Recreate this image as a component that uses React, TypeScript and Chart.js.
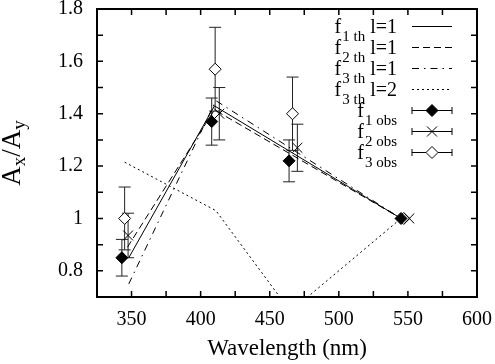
import React, { useEffect, useRef } from 'react';
import { Chart, registerables } from 'chart.js';

Chart.register(...registerables);

const FONT = '"Liberation Serif", "Times New Roman", serif';

// Axes
const xMin = 325;
const xMax = 600;
const xStep = 25;
const xLabelEvery = 50;
const yMin = 0.7;
const yMax = 1.8;
const yStep = 0.1;
const xTitle = 'Wavelength (nm)';

// Theory curves
const f1ThWl = [348, 410, 545];
const f1ThVal = [0.85, 1.43, 1.0];
const f2ThWl = [347, 410, 545];
const f2ThVal = [0.89, 1.415, 1.0];
const f3ThWl = [348, 411, 545];
const f3ThVal = [0.75, 1.45, 1.0];
const f3L2Wl = [345, 411, 465, 545];
const f3L2Val = [1.215, 1.03, 0.645, 1.0];

// Observations
const f1ObsWl = [343, 408, 464, 545];
const f1ObsVal = [0.85, 1.37, 1.22, 1.0];
const f1ObsErr = [0.07, 0.09, 0.08, 0];
const f2ObsWl = [347.5, 413.5, 470, 551];
const f2ObsVal = [0.935, 1.4, 1.27, 1.0];
const f2ObsErr = [0.085, 0.1, 0.09, 0];
const f3ObsWl = [345, 410.5, 466.5, 547];
const f3ObsVal = [1.0, 1.57, 1.4, 1.0];
const f3ObsErr = [0.12, 0.16, 0.14, 0];

// Legend
const legendSubs = ['1 th', '2 th', '3 th', '3 th', '1 obs', '2 obs', '3 obs'];
const legendSuffix = [' l=1', ' l=1', ' l=1', ' l=2', '', '', ''];
const legendKinds = ['solid', 'dash', 'dashdot', 'dot', 'fdiamond', 'cross', 'odiamond'];

const pts = (xs: number[], ys: number[]) => xs.map((x, i) => ({ x, y: ys[i] }));

const dashFor: Record<string, number[]> = {
  solid: [],
  dash: [7, 4],
  dashdot: [7, 5, 1.5, 5],
  dot: [2, 3],
};

function drawDiamond(ctx: CanvasRenderingContext2D, x: number, y: number, r: number, filled: boolean) {
  ctx.beginPath();
  ctx.moveTo(x, y - r);
  ctx.lineTo(x + r, y);
  ctx.lineTo(x, y + r);
  ctx.lineTo(x - r, y);
  ctx.closePath();
  ctx.fillStyle = filled ? '#000' : '#fff';
  ctx.fill();
  ctx.strokeStyle = '#000';
  ctx.lineWidth = 1;
  ctx.stroke();
}

function drawCross(ctx: CanvasRenderingContext2D, x: number, y: number, r: number) {
  ctx.beginPath();
  ctx.moveTo(x - r, y - r);
  ctx.lineTo(x + r, y + r);
  ctx.moveTo(x - r, y + r);
  ctx.lineTo(x + r, y - r);
  ctx.strokeStyle = '#000';
  ctx.lineWidth = 1;
  ctx.stroke();
}

const errorBarPlugin = {
  id: 'errorBars',
  beforeDatasetsDraw(chart: any) {
    const { ctx, scales } = chart;
    const xs = scales.x;
    const ys = scales.y;
    ctx.save();
    ctx.strokeStyle = '#222';
    ctx.lineWidth = 1;
    chart.data.datasets.forEach((ds: any) => {
      if (!ds.errors) return;
      ds.data.forEach((p: any, i: number) => {
        const e = ds.errors[i];
        if (!e) return;
        const px = xs.getPixelForValue(p.x);
        const top = ys.getPixelForValue(p.y + e);
        const bot = ys.getPixelForValue(p.y - e);
        ctx.beginPath();
        ctx.moveTo(px, top);
        ctx.lineTo(px, bot);
        ctx.moveTo(px - 6, top);
        ctx.lineTo(px + 6, top);
        ctx.moveTo(px - 6, bot);
        ctx.lineTo(px + 6, bot);
        ctx.stroke();
      });
    });
    ctx.restore();
  },
};

const framePlugin = {
  id: 'frame',
  afterDraw(chart: any) {
    const { ctx, chartArea: a, scales } = chart;
    const tl = 6;
    ctx.save();
    ctx.strokeStyle = '#000';
    ctx.lineWidth = 1.5;
    ctx.beginPath();
    scales.x.ticks.forEach((t: any) => {
      const px = scales.x.getPixelForValue(t.value);
      ctx.moveTo(px, a.bottom);
      ctx.lineTo(px, a.bottom - tl);
      ctx.moveTo(px, a.top);
      ctx.lineTo(px, a.top + tl);
    });
    scales.y.ticks.forEach((t: any) => {
      const py = scales.y.getPixelForValue(t.value);
      ctx.moveTo(a.left, py);
      ctx.lineTo(a.left + tl, py);
      ctx.moveTo(a.right, py);
      ctx.lineTo(a.right - tl, py);
    });
    ctx.stroke();
    ctx.lineWidth = 2;
    ctx.strokeRect(a.left, a.top, a.right - a.left, a.bottom - a.top);

    // Y axis title: A_x/A_y rotated
    const big = 27;
    const sub = 19;
    const parts: [string, boolean][] = [['A', false], ['x', true], ['/', false], ['A', false], ['y', true]];
    let total = 0;
    const widths = parts.map(([s, isSub]) => {
      ctx.font = `${isSub ? sub : big}px ${FONT}`;
      const w = ctx.measureText(s).width;
      total += w;
      return w;
    });
    ctx.translate(20, (a.top + a.bottom) / 2);
    ctx.rotate(-Math.PI / 2);
    ctx.fillStyle = '#000';
    ctx.textBaseline = 'alphabetic';
    ctx.textAlign = 'left';
    let cx = -total / 2;
    parts.forEach(([s, isSub], i) => {
      ctx.font = `${isSub ? sub : big}px ${FONT}`;
      ctx.fillText(s, cx, isSub ? 5 : 0);
      cx += widths[i];
    });
    ctx.restore();

    // Legend
    ctx.save();
    const textRight = 397;
    const sx0 = 412;
    const sx1 = 452;
    const y0 = 26.5;
    const dy = 21;
    ctx.fillStyle = '#000';
    ctx.textBaseline = 'alphabetic';
    ctx.textAlign = 'left';
    legendKinds.forEach((kind, i) => {
      const yy = y0 + i * dy;
      ctx.font = `20px ${FONT}`;
      const wf = ctx.measureText('f').width + 1;
      const ws = legendSuffix[i] ? ctx.measureText(legendSuffix[i]).width : 0;
      ctx.font = `15px ${FONT}`;
      const wsub = ctx.measureText(legendSubs[i]).width;
      let tx = textRight - (wf + wsub + ws);
      ctx.font = `20px ${FONT}`;
      ctx.fillText('f', tx, yy + 6);
      tx += wf;
      ctx.font = `15px ${FONT}`;
      ctx.fillText(legendSubs[i], tx, yy + 14);
      tx += wsub;
      if (legendSuffix[i]) {
        ctx.font = `20px ${FONT}`;
        ctx.fillText(legendSuffix[i], tx, yy + 6);
      }
      ctx.strokeStyle = '#000';
      ctx.lineWidth = 1;
      if (dashFor[kind]) {
        ctx.setLineDash(dashFor[kind]);
        ctx.beginPath();
        ctx.moveTo(sx0, yy);
        ctx.lineTo(sx1, yy);
        ctx.stroke();
        ctx.setLineDash([]);
      } else {
        ctx.beginPath();
        ctx.moveTo(sx0, yy);
        ctx.lineTo(sx1, yy);
        ctx.moveTo(sx0, yy - 3.5);
        ctx.lineTo(sx0, yy + 3.5);
        ctx.moveTo(sx1, yy - 3.5);
        ctx.lineTo(sx1, yy + 3.5);
        ctx.stroke();
        const mx = (sx0 + sx1) / 2;
        if (kind === 'cross') drawCross(ctx, mx, yy, 5);
        else drawDiamond(ctx, mx, yy, 6, kind === 'fdiamond');
      }
    });
    ctx.restore();
  },
};

export default function App() {
  const canvasRef = useRef<HTMLCanvasElement | null>(null);

  useEffect(() => {
    const canvas = canvasRef.current;
    if (!canvas) return;
    const lineDs = (label: string, xs: number[], ys: number[], dash: number[]) => ({
      label,
      data: pts(xs, ys),
      showLine: true,
      borderColor: '#000',
      borderWidth: 1,
      borderDash: dash,
      pointRadius: 0,
      fill: false,
      tension: 0,
    });
    const obsDs = (label: string, xs: number[], ys: number[], errs: number[], style: string, bg: string, r: number) => ({
      label,
      data: pts(xs, ys),
      errors: errs,
      showLine: false,
      pointStyle: style,
      pointRadius: r,
      pointHoverRadius: r,
      pointBackgroundColor: bg,
      pointBorderColor: '#000',
      pointBorderWidth: 1,
    });

    const chart = new Chart(canvas, {
      type: 'scatter',
      data: {
        datasets: [
          obsDs('f1 obs', f1ObsWl, f1ObsVal, f1ObsErr, 'rectRot', '#000', 6),
          obsDs('f2 obs', f2ObsWl, f2ObsVal, f2ObsErr, 'crossRot', '#000', 7),
          obsDs('f3 obs', f3ObsWl, f3ObsVal, f3ObsErr, 'rectRot', '#fff', 6),
          lineDs('f1 th l=1', f1ThWl, f1ThVal, dashFor.solid),
          lineDs('f2 th l=1', f2ThWl, f2ThVal, dashFor.dash),
          lineDs('f3 th l=1', f3ThWl, f3ThVal, dashFor.dashdot),
          lineDs('f3 th l=2', f3L2Wl, f3L2Val, dashFor.dot),
        ] as any,
      },
      options: {
        responsive: false,
        animation: false,
        devicePixelRatio: 1,
        layout: { padding: { top: 9, right: 18, left: 0, bottom: 0 } },
        plugins: { legend: { display: false }, tooltip: { enabled: false } },
        scales: {
          x: {
            type: 'linear',
            min: xMin,
            max: xMax,
            grid: { display: false, drawTicks: false },
            border: { display: false },
            ticks: {
              stepSize: xStep,
              autoSkip: false,
              maxRotation: 0,
              padding: 11,
              color: '#000',
              font: { family: FONT, size: 20 },
              callback: (v: any) => (Math.round(v) % xLabelEvery === 0 ? String(Math.round(v)) : ''),
            },
            title: {
              display: true,
              text: xTitle,
              color: '#000',
              font: { family: FONT, size: 23 },
              padding: { top: 0, bottom: 1 },
            },
            afterFit: (s: any) => {
              s.height = 67;
              s.paddingLeft = 0;
              s.paddingRight = 0;
            },
          },
          y: {
            type: 'linear',
            min: yMin,
            max: yMax,
            grid: { display: false, drawTicks: false },
            border: { display: false },
            ticks: {
              stepSize: yStep,
              autoSkip: false,
              padding: 14,
              color: '#000',
              font: { family: FONT, size: 20 },
              callback: (v: any) => {
                const k = Math.round(v * 10);
                return k % 2 === 0 ? String(k / 10) : '';
              },
            },
            afterFit: (s: any) => {
              s.width = 97;
              s.paddingTop = 0;
              s.paddingBottom = 0;
            },
          },
        },
      } as any,
      plugins: [errorBarPlugin, framePlugin],
    });
    return () => chart.destroy();
  }, []);

  return (
    <div style={{ position: 'absolute', left: 0, top: 0, width: 495, height: 364, background: '#fff' }}>
      <canvas ref={canvasRef} width={495} height={364} style={{ display: 'block', width: 495, height: 364 }} />
    </div>
  );
}
